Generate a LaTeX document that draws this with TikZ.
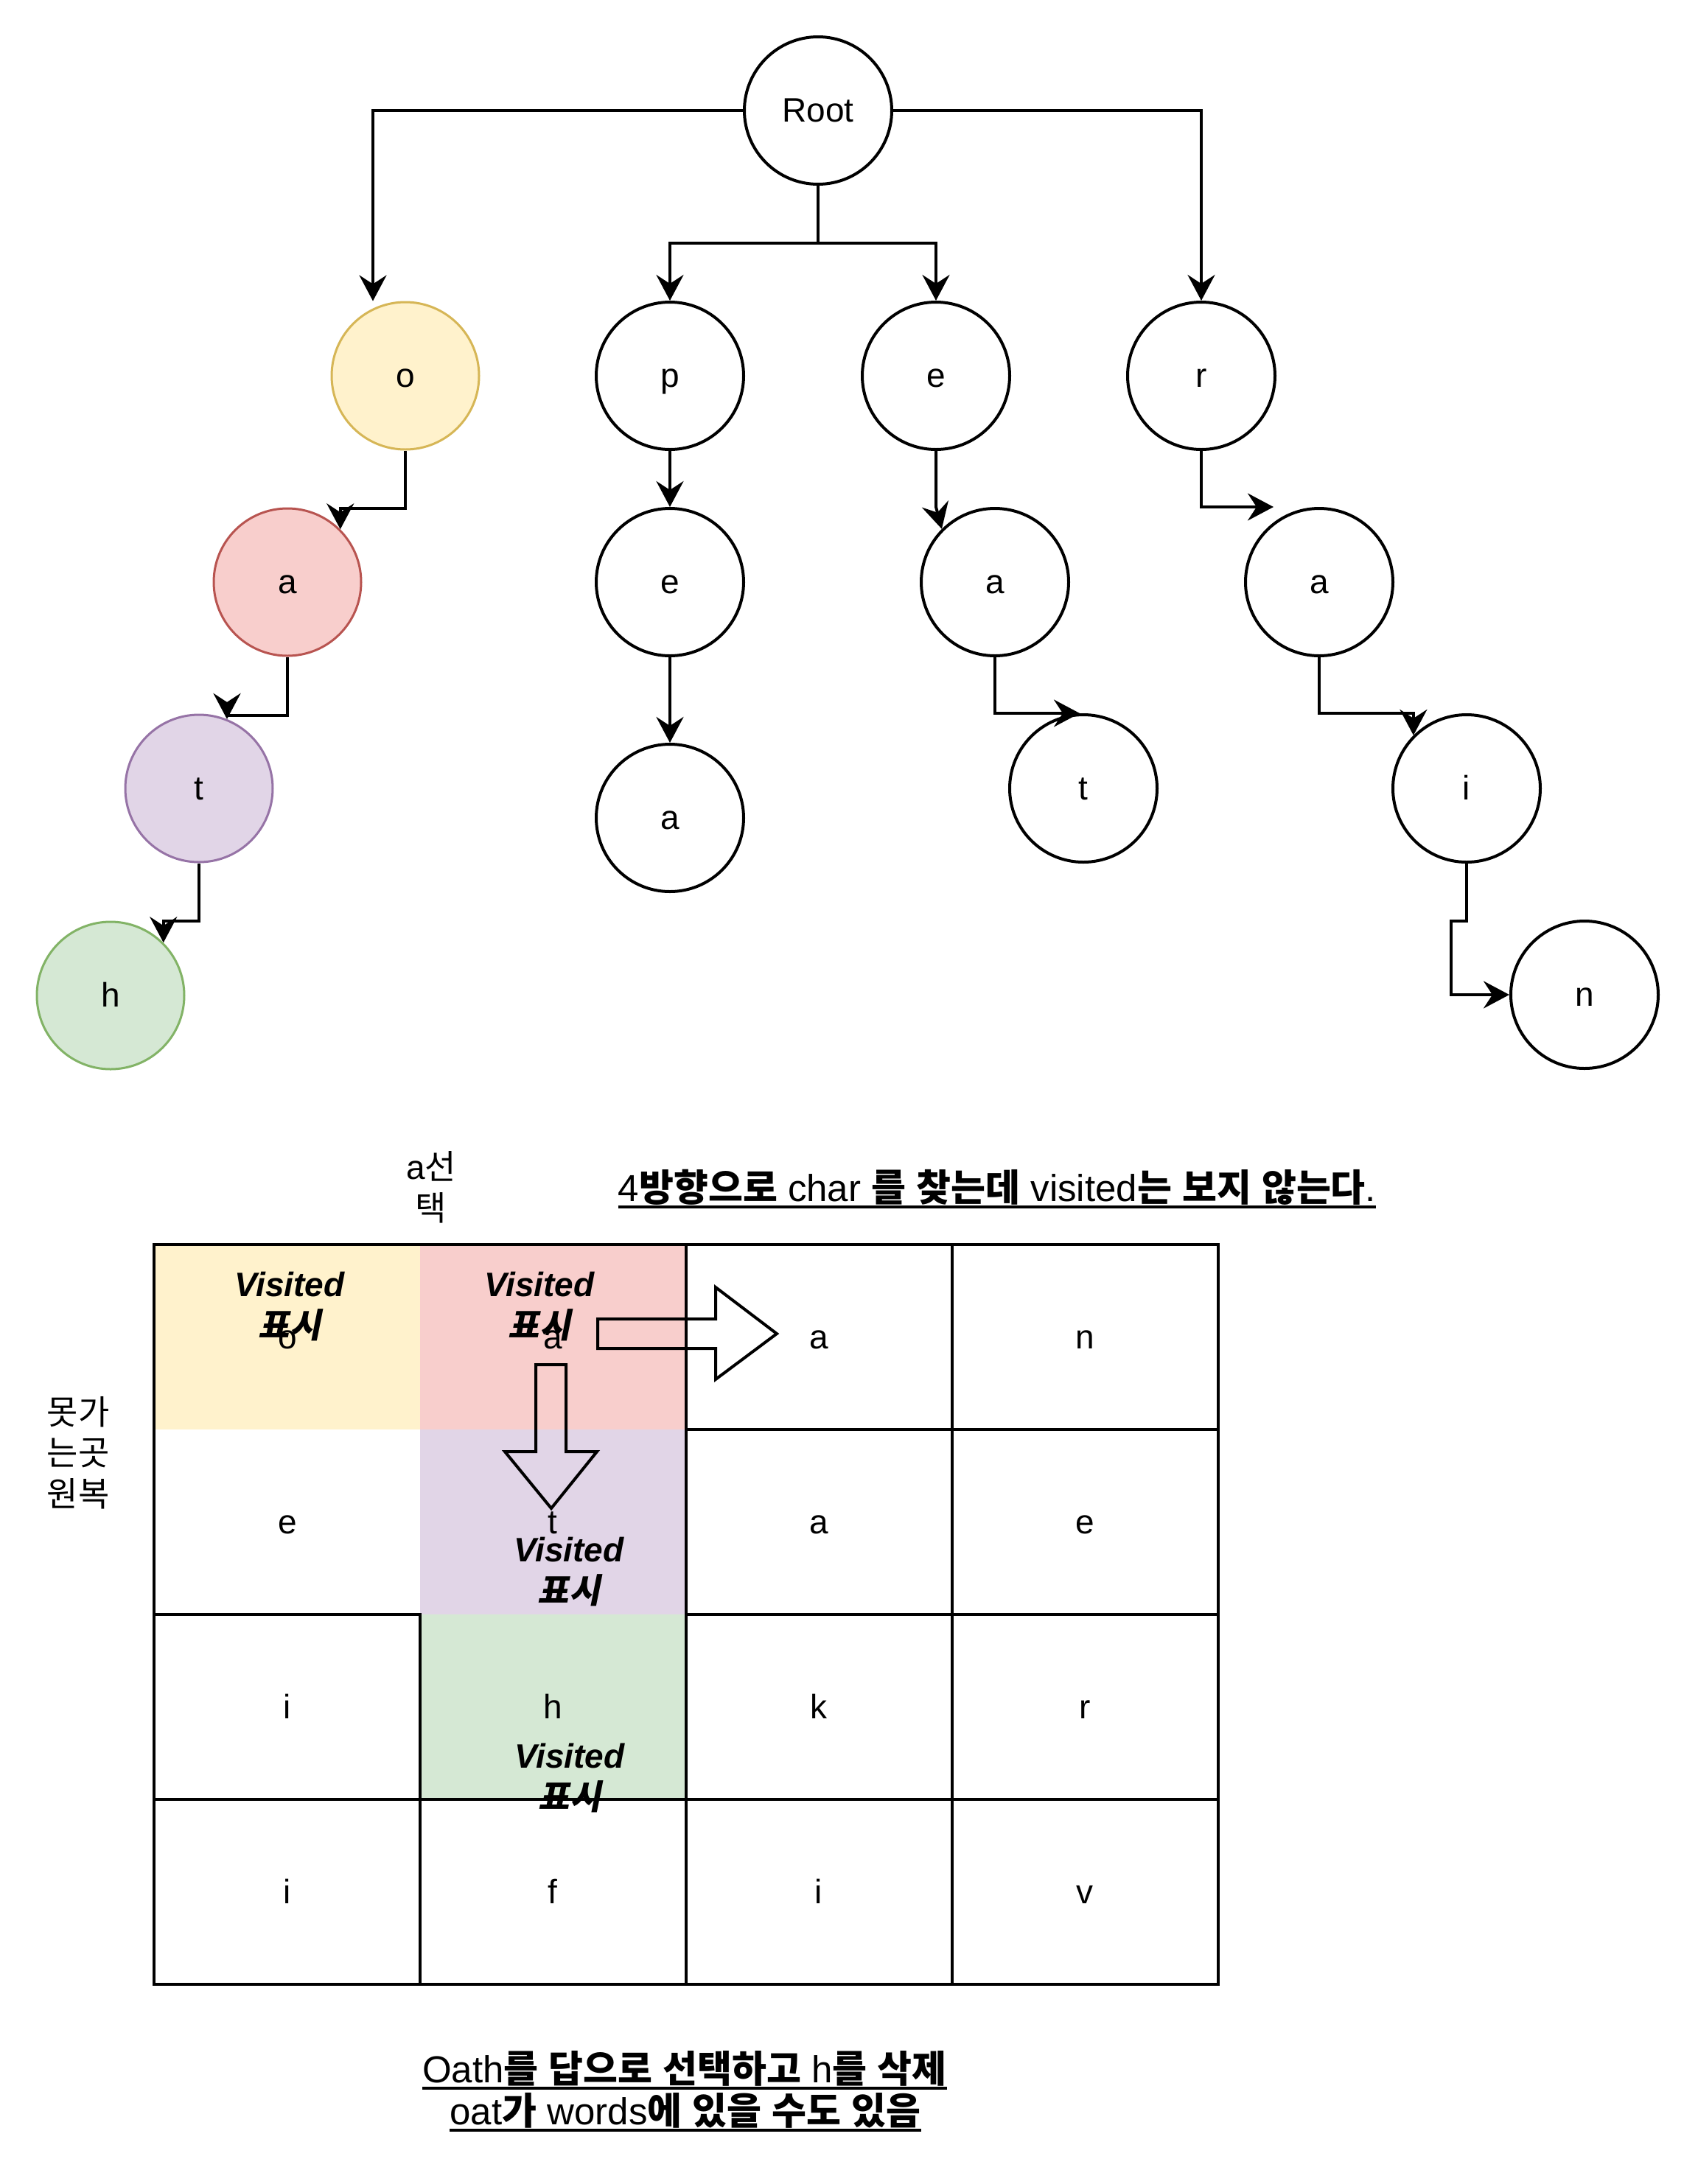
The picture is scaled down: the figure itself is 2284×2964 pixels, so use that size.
\documentclass[tikz,border=0pt]{standalone}
\usepackage{fontspec}
\setmainfont{Liberation Sans}
\newfontfamily\krf{Noto Sans CJK KR}
\newfontfamily\krsl{Noto Sans CJK KR}[FakeSlant=0.2]
\usetikzlibrary{arrows.meta}
\definecolor{yfill}{HTML}{FFF2CC}\definecolor{ystroke}{HTML}{D6B656}
\definecolor{rfill}{HTML}{F8CECC}\definecolor{rstroke}{HTML}{B85450}
\definecolor{pfill}{HTML}{E1D5E7}\definecolor{pstroke}{HTML}{9673A6}
\definecolor{gfill}{HTML}{D5E8D4}\definecolor{gstroke}{HTML}{82B366}
\newcommand\fsN{\fontsize{46}{55.2}\selectfont}
\newcommand\fsT{\fontsize{51}{57.6}\selectfont}
\newcommand\KB[1]{{\krf\bfseries #1}}
\newcommand\KR[1]{{\krf #1}}
\begin{document}
\begin{tikzpicture}[x=1pt,y=-1pt,
  circ/.style={circle, draw, line width=4pt, minimum size=200pt, inner sep=0pt, font=\fsN, text height=41pt, text depth=10pt},
  arr/.style={line width=4pt, -{Stealth[length=35pt,width=37pt,inset=12pt]}},
  lbl/.style={font=\fsN, inner sep=0pt, text height=41pt, text depth=10pt},
  vis/.style={font=\fsN\bfseries\itshape, align=center, anchor=base, inner sep=0pt},
  txt/.style={font=\fsN, align=center, anchor=base, inner sep=0pt},
  ttl/.style={font=\fsT, anchor=base, inner sep=0pt},
  gridline/.style={line width=4pt, line cap=rect},
  blockarrow/.style={line width=4pt, line join=miter, fill=none}]
\useasboundingbox (0,0) rectangle (2284,2964);
\fill[white] (0,0) rectangle (2284,2964);

% ---------- tree ----------
\node[circ] (root) at (1110,150) {Root};
\node[circ, fill=yfill, draw=ystroke, line width=3pt] (no) at (550,510) {o};
\node[circ] (np) at (909,510) {p};
\node[circ] (ne) at (1270,510) {e};
\node[circ] (nr) at (1630,510) {r};
\node[circ, fill=rfill, draw=rstroke, line width=3pt] (na1) at (390,790) {a};
\node[circ] (ne2) at (909,790) {e};
\node[circ] (na3) at (1350,790) {a};
\node[circ] (na4) at (1790,790) {a};
\node[circ, fill=pfill, draw=pstroke, line width=3pt] (nt1) at (270,1070) {t};
\node[circ] (na2) at (909,1110) {a};
\node[circ] (nt2) at (1470,1070) {t};
\node[circ] (ni) at (1990,1070) {i};
\node[circ, fill=gfill, draw=gstroke, line width=3pt] (nh) at (150,1351) {h};
\node[circ] (nn) at (2150,1350) {n};

\coordinate (bus) at (1110,330);
\coordinate (k1) at (1969,1250);

\draw[arr] (root.west) -| ([xshift=-44pt]no.north);
\draw[arr] (root.south) -- (bus) -| (np.north);
\draw[arr] (root.south) -- (bus) -| (ne.north);
\draw[arr] (root.east) -| (nr.north);
\draw[arr] (no.south) |- ([yshift=28.6pt]na1.north east) -- (na1.north east);
\draw[arr] (na1.south) |- ([yshift=5pt]nt1.68) -- (nt1.68);
\draw[arr] (nt1.south) |- ([yshift=29.6pt]nh.north east) -- (nh.north east);
\draw[arr] (np.south) -- (ne2.north);
\draw[arr] (ne2.south) -- (na2.north);
\draw[arr] (ne.south) -- (ne.south |- na3.north) -- (na3.north west);
\draw[arr] (na3.south) |- ([xshift=-5pt]nt2.north);
\draw[arr] (nr.south) |- ([xshift=-62pt]na4.north);
\draw[arr] (na4.south) |- ([yshift=29.6pt]ni.north west) -- (ni.north west);
\draw[arr] (ni.south) |- (k1) |- (nn.west);

% ---------- titles ----------
\node[txt] (sel) at (585,1656) {a\KR{선}\\\KR{택}};
\node[ttl] (title1) at (1353,1630) {4\KB{방향으로} char \KB{를} \KB{찾는데} visited\KB{는} \KB{보지} \KB{않는다}.};
\draw[line width=4pt] ([yshift=-8pt]title1.base west) -- ([yshift=-8pt]title1.base east);
\node[txt] (back) at (106,2044) {\KR{못가}\\\KR{는곳}\\\KR{원복}};

% ---------- grid ----------
\fill[yfill] (209,1689) rectangle (570,1940);
\fill[rfill] (570,1689) rectangle (931,1940);
\fill[pfill] (570,1940) rectangle (931,2191);
\fill[gfill] (570,2191) rectangle (931,2442);
\draw[gridline] (209,1689) rectangle (1653,2693);
\draw[gridline] (931,1689) -- (931,2693);
\draw[gridline] (1292,1689) -- (1292,2693);
\draw[gridline] (570,2191) -- (570,2693);
\draw[gridline] (931,1940) -- (1653,1940);
\draw[gridline] (209,2191) -- (570,2191);
\draw[gridline] (931,2191) -- (1653,2191);
\draw[gridline] (209,2442) -- (1653,2442);

\node[lbl] (c11) at (390,1815) {o};
\node[lbl] (c12) at (750,1815) {a};
\node[lbl] (c13) at (1111,1815) {a};
\node[lbl] (c14) at (1472,1815) {n};
\node[lbl] (c21) at (390,2066) {e};
\node[lbl] (c22) at (750,2066) {t};
\node[lbl] (c23) at (1111,2066) {a};
\node[lbl] (c24) at (1472,2066) {e};
\node[lbl] (c31) at (390,2317) {i};
\node[lbl] (c32) at (750,2317) {h};
\node[lbl] (c33) at (1111,2317) {k};
\node[lbl] (c34) at (1472,2317) {r};
\node[lbl] (c41) at (390,2568) {i};
\node[lbl] (c42) at (750,2568) {f};
\node[lbl] (c43) at (1111,2568) {i};
\node[lbl] (c44) at (1472,2568) {v};

\node[vis] (v1) at (393,1815) {Visited\\{\krsl\bfseries 표시}};
\node[vis] (v2) at (732,1815) {Visited\\{\krsl\bfseries 표시}};
\node[vis] (v3) at (772,2175) {Visited\\{\krsl\bfseries 표시}};
\node[vis] (v4) at (773,2455) {Visited\\{\krsl\bfseries 표시}};

\draw[blockarrow] (811,1790) -- (971,1790) -- (971,1747) -- (1054,1810) -- (971,1872) -- (971,1830) -- (811,1830) -- cycle;
\draw[blockarrow] (727,1852) -- (768,1852) -- (768,1970) -- (810,1970) -- (748,2047) -- (685,1970) -- (727,1970) -- cycle;

% ---------- bottom text ----------
\node[ttl] (bot1) at (929,2826) {Oath\KB{를} \KB{답으로} \KB{선택하고} h\KB{를} \KB{삭제}};
\draw[line width=4pt] ([yshift=-8pt]bot1.base west) -- ([yshift=-8pt]bot1.base east);
\node[ttl] (bot2) at (930,2883) {oat\KB{가} words\KB{에} \KB{있을} \KB{수도} \KB{있음}};
\draw[line width=4pt] ([yshift=-8pt]bot2.base west) -- ([yshift=-8pt]bot2.base east);
\end{tikzpicture}
\end{document}
